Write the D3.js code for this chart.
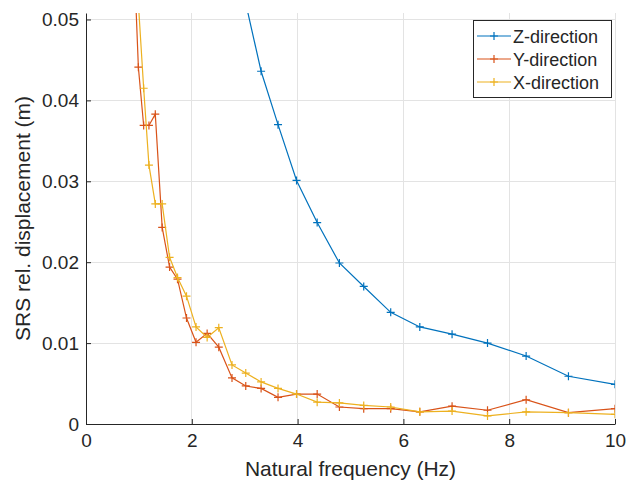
<!DOCTYPE html>
<html><head><meta charset="utf-8">
<script src="https://cdn.jsdelivr.net/npm/d3@7"></script>
<style>body{margin:0;background:#fff}svg{display:block}text{font-family:"Liberation Sans",Arial,sans-serif;fill:#262626}</style>
</head><body>
<svg id="c" width="630" height="484"></svg>
<script>
const freq = [0.90, 0.99, 1.09, 1.19, 1.31, 1.44, 1.58, 1.73, 1.90, 2.08, 2.29, 2.51, 2.76, 3.02, 3.31, 3.63, 3.98, 4.37, 4.79, 5.25, 5.76, 6.31, 6.92, 7.59, 8.32, 9.12, 10.0];
const zDir = [null, null, null, null, null, null, null, null, null, null, null, null, null, 0.0520, 0.0436, 0.0370, 0.0301, 0.0249, 0.0199, 0.0170, 0.0138, 0.0120, 0.0111, 0.0100, 0.0084, 0.0059, 0.0049];
const yDir = [0.0590, 0.0441, 0.0369, 0.0369, 0.0383, 0.0243, 0.0194, 0.0179, 0.0131, 0.0101, 0.0112, 0.0095, 0.0057, 0.0047, 0.0044, 0.0033, 0.0037, 0.0037, 0.0021, 0.0019, 0.0019, 0.0015, 0.0022, 0.0017, 0.0030, 0.0014, 0.0019];
const xDir = [0.0600, 0.0520, 0.0415, 0.0320, 0.0272, 0.0272, 0.0206, 0.0181, 0.0158, 0.0120, 0.0107, 0.0119, 0.0073, 0.0063, 0.0052, 0.0044, 0.0037, 0.0027, 0.0026, 0.0023, 0.0021, 0.0015, 0.0016, 0.0010, 0.0015, 0.0014, 0.0012];
const seriesNames = ["Z-direction", "Y-direction", "X-direction"];
const seriesColors = ["#0072BD", "#D95319", "#EDB120"];
const xTicks = [0, 2, 4, 6, 8, 10];
const yTicks = [0, 0.01, 0.02, 0.03, 0.04, 0.05];

const svg = d3.select("#c");
const L = 86, R = 615, T = 13, B = 424;
const x = d3.scaleLinear().domain([0, 10]).range([L, R]);
const y = d3.scaleLinear().domain([0, 0.0508]).range([B, T]);

// grid
const g = svg.append("g");
g.selectAll(".gx").data(xTicks.slice(1)).enter().append("line")
  .attr("x1", d => x(d)).attr("x2", d => x(d)).attr("y1", T).attr("y2", B)
  .attr("stroke", "#e3e3e3").attr("stroke-width", 1).attr("shape-rendering", "crispEdges");
g.selectAll(".gy").data(yTicks.slice(1)).enter().append("line")
  .attr("x1", L).attr("x2", R).attr("y1", d => y(d)).attr("y2", d => y(d))
  .attr("stroke", "#e3e3e3").attr("stroke-width", 1).attr("shape-rendering", "crispEdges");

// axes
const xAxis = d3.axisBottom(x).tickValues(xTicks).tickFormat(d3.format("d")).tickSizeInner(-5).tickSizeOuter(0).tickPadding(10);
const yAxis = d3.axisLeft(y).tickValues(yTicks).tickFormat(d => d === 0 ? "0" : d3.format(".2f")(d)).tickSizeInner(-5).tickSizeOuter(0).tickPadding(7);
const gx = svg.append("g").attr("transform", `translate(0,${B})`).call(xAxis);
const gy = svg.append("g").attr("transform", `translate(${L},0)`).call(yAxis);
[gx, gy].forEach(a => {
  a.select(".domain").attr("stroke", "#262626").attr("stroke-width", 1);
  a.selectAll(".tick line").attr("stroke", "#262626");
  a.selectAll(".tick text").attr("font-size", 19).attr("fill", "#262626").style("font-family", '"Liberation Sans",Arial,sans-serif');
});

// clip
svg.append("clipPath").attr("id", "clip").append("rect").attr("x", L).attr("y", T).attr("width", R - L).attr("height", B - T);
const plot = svg.append("g").attr("clip-path", "url(#clip)");
const allSeries = [zDir, yDir, xDir];
const line = d3.line().defined(d => d[1] !== null).x(d => x(d[0])).y(d => y(d[1]));
const ms = 4;
allSeries.forEach((vals, i) => {
  const pts = freq.map((f, j) => [f, vals[j]]).filter(d => d[1] !== null);
  plot.append("path").datum(pts).attr("d", line).attr("fill", "none")
    .attr("stroke", seriesColors[i]).attr("stroke-width", 1.2);
  plot.append("g").selectAll("path").data(pts).enter().append("path")
    .attr("d", d => `M${x(d[0]) - ms},${y(d[1])}H${x(d[0]) + ms}M${x(d[0])},${y(d[1]) - ms}V${y(d[1]) + ms}`)
    .attr("stroke", seriesColors[i]).attr("stroke-width", 1.2).attr("fill", "none");
});

// labels
svg.append("text").attr("x", (L + R) / 2).attr("y", 476).attr("text-anchor", "middle")
  .attr("font-size", 21).text("Natural frequency (Hz)");
svg.append("text").attr("transform", `translate(30,${(T + B) / 2}) rotate(-90)`).attr("text-anchor", "middle")
  .attr("font-size", 21).text("SRS rel. displacement (m)");

// legend
const lg = svg.append("g");
lg.append("rect").attr("x", 473.5).attr("y", 20.5).attr("width", 138).attr("height", 77)
  .attr("fill", "#fff").attr("stroke", "#262626").attr("stroke-width", 1);
seriesNames.forEach((n, i) => {
  const cy = 36 + i * 23;
  lg.append("line").attr("x1", 477).attr("x2", 511).attr("y1", cy).attr("y2", cy)
    .attr("stroke", seriesColors[i]).attr("stroke-width", 1.2);
  lg.append("path").attr("d", `M${494 - ms},${cy}H${494 + ms}M494,${cy - ms}V${cy + ms}`)
    .attr("stroke", seriesColors[i]).attr("stroke-width", 1.2);
  lg.append("text").attr("x", 513).attr("y", cy + 6.5).attr("font-size", 18).text(n);
});
</script>
</body></html>
